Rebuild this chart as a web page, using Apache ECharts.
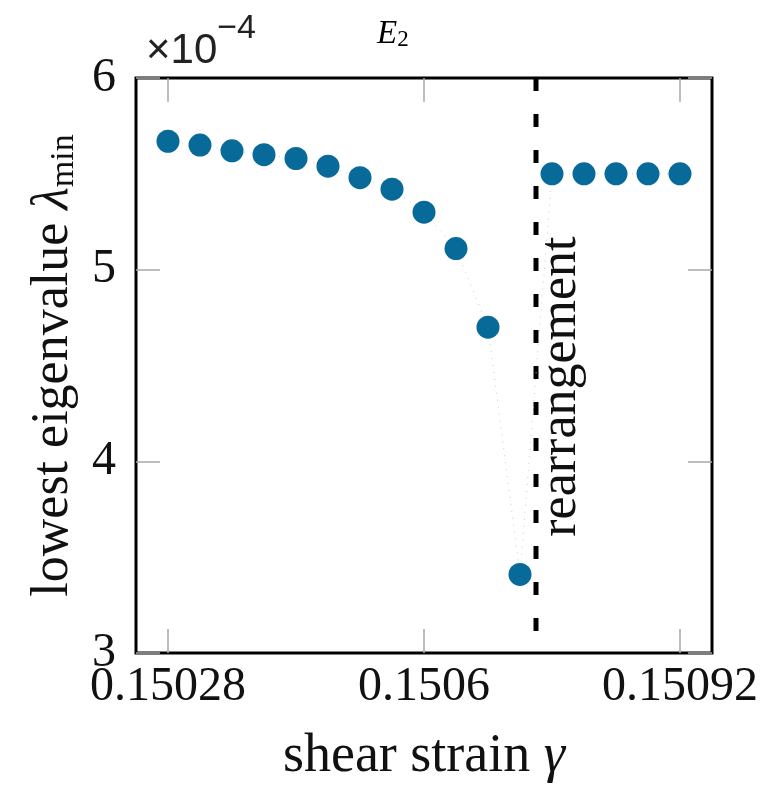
<!DOCTYPE html>
<html>
<head>
<meta charset="utf-8">
<script src="https://cdn.jsdelivr.net/npm/echarts@6/dist/echarts.min.js"></script>
<style>
  html, body { margin: 0; padding: 0; background: #fff; }
  #chart { width: 769px; height: 785px; }
</style>
</head>
<body>
<div id="chart"></div>
<script>
// shear strain steps and lowest eigenvalue (in units of 1e-4)
const strain = [0.15028, 0.15032, 0.15036, 0.1504, 0.15044, 0.15048, 0.15052, 0.15056, 0.1506,
  0.15064, 0.15068, 0.15072, 0.15076, 0.1508, 0.15084, 0.15088, 0.15092];
const lambdaMin = [5.67, 5.65, 5.62, 5.60, 5.58, 5.54, 5.48, 5.42, 5.30,
  5.11, 4.70, 3.41, 5.50, 5.50, 5.50, 5.50, 5.50];
const xTicks = [0.15028, 0.1506, 0.15092];
const yTicks = [3, 4, 5, 6];
const rearrangeAt = 0.15074;
const rearrangeLabelY = 4.39;

const serif = "'Liberation Serif', 'Times New Roman', serif";
const sans = "'Liberation Sans', sans-serif";
const dotColor = "#076a99";
const tickStyle = { show: true, inside: true, length: 24, lineStyle: { color: "#a8a8a8", width: 1.5 } };

const chart = echarts.init(document.getElementById("chart"));

chart.setOption({
  animation: false,
  title: [
    {
      text: "{a|×10}{b|−4}",
      left: 141,
      top: 7,
      textStyle: {
        rich: {
          a: { fontFamily: sans, fontWeight: "normal", fontSize: 42, lineHeight: 60, verticalAlign: "bottom", color: "#222" },
          b: { fontFamily: sans, fontWeight: "normal", fontSize: 34, lineHeight: 30, verticalAlign: "top", color: "#222" }
        }
      }
    },
    {
      text: "{e|E}{s|2}",
      left: 372,
      top: 12,
      textStyle: {
        rich: {
          e: { fontFamily: serif, fontWeight: "normal", fontStyle: "italic", fontSize: 33, lineHeight: 34, color: "#000" },
          s: { fontFamily: serif, fontWeight: "normal", fontSize: 23, lineHeight: 8, verticalAlign: "bottom", color: "#000" }
        }
      }
    }
  ],
  grid: {
    left: 136, right: 57, top: 78, bottom: 132,
    outerBoundsMode: "none",
    show: true, borderColor: "#000", borderWidth: 3
  },
  xAxis: [
    {
      type: "value",
      min: 0.15024,
      max: 0.15096,
      axisLine: { show: false },
      splitLine: { show: false },
      axisTick: Object.assign({ customValues: xTicks }, tickStyle),
      axisLabel: {
        customValues: xTicks,
        formatter: (v) => String(v),
        fontFamily: serif, fontSize: 48, color: "#111", margin: 10
      },
      name: "{t|shear strain }{g|γ}",
      nameLocation: "middle",
      nameGap: 77,
      nameTextStyle: {
        rich: {
          t: { fontFamily: serif, fontSize: 54, color: "#111" },
          g: { fontFamily: serif, fontStyle: "italic", fontSize: 54, color: "#111" }
        }
      }
    },
    {
      type: "value",
      position: "top",
      min: 0.15024,
      max: 0.15096,
      axisLine: { show: false },
      splitLine: { show: false },
      axisTick: Object.assign({ customValues: xTicks }, tickStyle),
      axisLabel: { show: false }
    }
  ],
  yAxis: [
    {
      type: "value",
      min: 3,
      max: 6,
      interval: 1,
      axisLine: { show: false },
      splitLine: { show: false },
      axisTick: tickStyle,
      axisLabel: {
        formatter: (v) => yTicks.includes(v) ? String(v) : "",
        fontFamily: serif, fontSize: 48, color: "#111", margin: 20
      },
      name: "{t|lowest eigenvalue }{l|λ}{s|min}",
      nameLocation: "middle",
      nameRotate: 90,
      nameGap: 45,
      nameTextStyle: {
        rich: {
          t: { fontFamily: serif, fontSize: 52, lineHeight: 56, color: "#111" },
          l: { fontFamily: serif, fontStyle: "italic", fontSize: 52, lineHeight: 56, color: "#111" },
          s: { fontFamily: serif, fontSize: 34, lineHeight: 20, verticalAlign: "bottom", color: "#111" }
        }
      }
    },
    {
      type: "value",
      position: "right",
      min: 3,
      max: 6,
      interval: 1,
      axisLine: { show: false },
      splitLine: { show: false },
      axisTick: tickStyle,
      axisLabel: { show: false }
    }
  ],
  series: [
    {
      name: "lambda",
      type: "line",
      data: strain.map((x, i) => [x, lambdaMin[i]]),
      symbol: "circle",
      symbolSize: 23,
      itemStyle: { color: dotColor },
      lineStyle: { color: "#b3cfe0", width: 1, type: [1, 6] },
      z: 3
    },
    {
      // dashed marker of the rearrangement event, drawn top to bottom
      name: "rearrangement",
      type: "line",
      symbol: "circle",
      symbolSize: 0,
      showSymbol: true,
      lineStyle: { color: "#000", width: 5, type: [13, 23] },
      itemStyle: { color: "#000" },
      z: 2,
      data: [
        [rearrangeAt, 6],
        {
          value: [rearrangeAt, rearrangeLabelY],
          label: {
            show: true,
            formatter: "rearrangement",
            position: "right",
            distance: 25,
            rotate: 90,
            align: "center",
            verticalAlign: "middle",
            fontFamily: serif,
            fontSize: 52,
            color: "#111"
          }
        },
        [rearrangeAt, 3]
      ]
    }
  ]
});
</script>
</body>
</html>
